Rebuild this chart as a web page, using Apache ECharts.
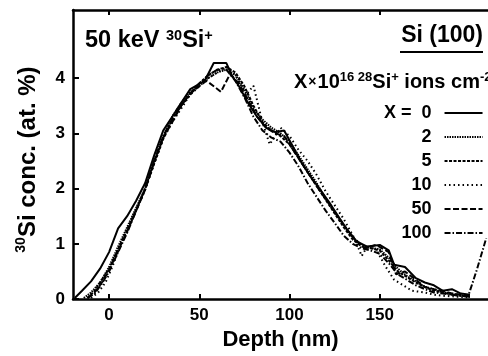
<!DOCTYPE html>
<html>
<head>
<meta charset="utf-8">
<script src="https://cdn.jsdelivr.net/npm/echarts@6/dist/echarts.min.js"></script>
<style>html,body{margin:0;padding:0;background:#fff;}#c{width:488px;height:356px;}</style>
</head>
<body>
<div id="c"></div>
<script>
// Legend names (dose X, in 1e16 ions/cm2)
const doses = ['0', '2', '5', '10', '50', '100'];
const xTicks = [0, 50, 100, 150];
const yTicks = [0, 1, 2, 3, 4];

const depth0 = [-19,-15,-10,-5,0,5,10,15,20,25,30,35,40,45,53,58,65,68,72,77,82,87,92,97,102,107,112,117,122,127,132,137,143,150,155,158,164,170,175,180,185,190,195,200];
const conc0  = [0.02,0.15,0.32,0.55,0.85,1.28,1.5,1.78,2.1,2.6,3.05,3.3,3.55,3.8,3.95,4.27,4.27,4.05,3.85,3.55,3.3,3.1,3.02,3.05,2.75,2.45,2.2,1.98,1.75,1.5,1.25,1.05,0.95,0.98,0.88,0.62,0.58,0.38,0.3,0.25,0.15,0.18,0.1,0.08];

const depth1 = [-14,-10,-5,0,5,10,15,20,25,30,35,40,45,50,55,60,65,70,75,80,85,90,95,100,105,110,115,120,125,130,135,140,145,150,155,160,165,170,175,180,185,190,195,200];
const conc1  = [0.02,0.12,0.3,0.58,0.95,1.3,1.65,2.0,2.5,2.95,3.3,3.55,3.75,3.9,4.0,4.1,4.15,4.05,3.8,3.45,3.25,3.1,3.0,2.85,2.6,2.35,2.1,1.82,1.58,1.35,1.12,0.98,0.93,0.9,0.75,0.55,0.42,0.32,0.22,0.18,0.12,0.1,0.07,0.05];

const depth2 = [-12,-8,-4,0,5,10,15,20,25,30,35,40,45,50,55,60,65,70,75,80,85,90,95,100,105,110,115,120,125,130,135,140,145,150,155,160,165,170,175,180,185,190,195,200];
const conc2  = [0.02,0.15,0.35,0.55,0.9,1.25,1.62,2.0,2.45,2.9,3.25,3.5,3.7,3.9,4.05,4.15,4.2,4.1,3.85,3.5,3.2,3.05,2.95,2.8,2.55,2.3,2.05,1.8,1.55,1.3,1.08,0.95,0.92,0.88,0.7,0.5,0.4,0.3,0.22,0.15,0.12,0.08,0.06,0.04];

const depth3 = [-10,-6,-2,2,6,10,15,20,25,30,35,40,45,50,55,60,65,70,76,80,85,89,95,100,105,110,115,120,125,130,136,140,143,148,153,158,163,168,175,180,185,190,195,200];
const conc3  = [0.02,0.12,0.3,0.6,0.95,1.25,1.6,1.98,2.45,2.9,3.2,3.45,3.7,3.85,4.0,4.1,4.2,4.05,3.7,3.86,3.2,2.8,3.1,2.95,2.7,2.5,2.25,1.95,1.7,1.45,1.1,0.78,0.95,0.9,0.6,0.35,0.25,0.15,0.12,0.08,0.06,0.05,0.04,0.03];

const depth4 = [-12,-8,-4,0,5,10,15,20,25,30,35,40,45,50,54,62,67,72,77,82,87,92,97,102,107,112,117,122,127,132,137,142,148,155,159,164,170,175,180,185,190,195,200];
const conc4  = [0.02,0.12,0.3,0.52,0.88,1.22,1.6,1.98,2.48,2.92,3.2,3.5,3.72,3.85,3.95,3.75,4.07,3.9,3.6,3.3,3.1,3.0,2.95,2.7,2.45,2.2,1.95,1.72,1.48,1.25,1.05,0.92,0.98,0.85,0.45,0.5,0.35,0.22,0.18,0.15,0.1,0.08,0.05];

const depth5 = [-12,-8,-4,0,5,10,15,20,25,30,35,40,45,50,55,60,65,70,75,80,85,90,95,100,105,110,115,120,125,130,135,140,145,150,155,160,165,170,175,180,185,190,195,199,204,209];
const conc5  = [0.02,0.1,0.28,0.5,0.85,1.2,1.6,2.0,2.5,2.95,3.25,3.5,3.72,3.9,4.05,4.15,4.15,3.95,3.65,3.3,3.05,2.92,2.85,2.65,2.4,2.1,1.85,1.6,1.38,1.15,1.0,0.92,0.88,0.82,0.65,0.45,0.35,0.25,0.18,0.12,0.1,0.08,0.06,0.05,0.55,1.1];

const depths = [depth0, depth1, depth2, depth3, depth4, depth5];
const concs = [conc0, conc1, conc2, conc3, conc4, conc5];
const dashTypes = ['solid', [1.5, 1], [3, 1.5], [1.5, 3], [6, 2.5], [6, 2, 1.5, 2]];

const FONT = '"Liberation Sans", Arial, Helvetica, sans-serif';

const series = doses.map((name, i) => ({
  name: name,
  type: 'line',
  symbol: 'none',
  showSymbol: false,
  data: depths[i].map((d, j) => [d, concs[i][j]]),
  lineStyle: { color: '#000', width: 2, type: dashTypes[i] },
  itemStyle: { color: '#000' },
  clip: true,
  z: 3
}));

const chart = echarts.init(document.getElementById('c'), null, { renderer: 'canvas' });
const axisLine = { show: true, onZero: false, lineStyle: { color: '#000', width: 2.5 } };
chart.setOption({
  backgroundColor: '#fff',
  animation: false,
  grid: { left: 73, right: -6, top: 10, bottom: 53, containLabel: false },
  xAxis: [{
    type: 'value', min: -20, max: 210, position: 'bottom',
    axisLine: axisLine,
    axisTick: { inside: true, length: 5, lineStyle: { color: '#000', width: 2 }, customValues: xTicks },
    axisLabel: { customValues: xTicks, color: '#000', fontSize: 17, fontWeight: 'bold', fontFamily: FONT, margin: 8 },
    splitLine: { show: false },
    name: 'Depth (nm)', nameLocation: 'middle', nameGap: 26,
    nameTextStyle: { color: '#000', fontSize: 22, fontWeight: 'bold', fontFamily: FONT }
  }, {
    type: 'value', min: -20, max: 210, position: 'top',
    axisLine: axisLine,
    axisTick: { inside: true, length: 5, lineStyle: { color: '#000', width: 2 }, customValues: xTicks },
    axisLabel: { show: false },
    splitLine: { show: false }
  }],
  yAxis: {
    type: 'value', min: 0, max: 5.23,
    axisLine: axisLine,
    axisTick: { inside: true, length: 6, lineStyle: { color: '#000', width: 2 }, customValues: yTicks },
    axisLabel: { customValues: yTicks, color: '#000', fontSize: 17, fontWeight: 'bold', fontFamily: FONT, margin: 8 },
    splitLine: { show: false },
    name: '{s|30}{b|Si conc. (at. %)}', nameLocation: 'middle', nameGap: 31,
    nameTextStyle: {
      color: '#000', fontFamily: FONT, fontWeight: 'bold', padding: [0, 10, 0, 0],
      rich: {
        s: { fontSize: 14, fontWeight: 'bold', fontFamily: FONT, color: '#000', verticalAlign: 'top', lineHeight: 14 },
        b: { fontSize: 24, fontWeight: 'bold', fontFamily: FONT, color: '#000', lineHeight: 28 }
      }
    }
  },
  legend: {
    data: doses,
    orient: 'vertical', align: 'right',
    left: 379, top: 99,
    itemWidth: 38, itemHeight: 14, itemGap: 6,
    itemStyle: { opacity: 0, borderWidth: 0 },
    formatter: function (n) { return n === '0' ? '{a|X =  0}' : '{a|' + n + '}'; },
    textStyle: {
      color: '#000', fontFamily: FONT, fontWeight: 'bold', fontSize: 18,
      rich: { a: { width: 60, align: 'right', fontSize: 18, fontWeight: 'bold', fontFamily: FONT, color: '#000', padding: [0, 8, 0, 0] } }
    },
    selectedMode: false
  },
  graphic: [
    {
      type: 'text', left: 85, top: 28, z: 10,
      style: {
        text: '{b|50 keV }{s|30}{b|Si}{s|+}',
        rich: {
          b: { fontSize: 23.5, fontWeight: 'bold', fontFamily: FONT, fill: '#000', lineHeight: 25 },
          s: { fontSize: 14.5, fontWeight: 'bold', fontFamily: FONT, fill: '#000', verticalAlign: 'top', lineHeight: 13 }
        }
      }
    },
    {
      type: 'text', right: 5, top: 24, z: 10,
      style: { text: 'Si (100)', fontSize: 23, fontWeight: 'bold', fontFamily: FONT, fill: '#000' }
    },
    {
      type: 'line', z: 10,
      shape: { x1: 400, y1: 52, x2: 483, y2: 52 },
      style: { stroke: '#000', lineWidth: 2 }
    },
    {
      type: 'text', left: 294, top: 71, z: 10,
      style: {
        text: '{b|X}{m|×}{b|10}{s|16 28}{b|Si}{s|+}{b| ions cm}{s|-2}',
        rich: {
          b: { fontSize: 20, fontWeight: 'bold', fontFamily: FONT, fill: '#000', lineHeight: 23 },
          m: { fontSize: 14, fontWeight: 'bold', fontFamily: FONT, fill: '#000', lineHeight: 23, padding: [0, 1, 0, 1] },
          s: { fontSize: 13, fontWeight: 'bold', fontFamily: FONT, fill: '#000', verticalAlign: 'top', lineHeight: 12 }
        }
      }
    }
  ],
  series: series
});
</script>
</body>
</html>
